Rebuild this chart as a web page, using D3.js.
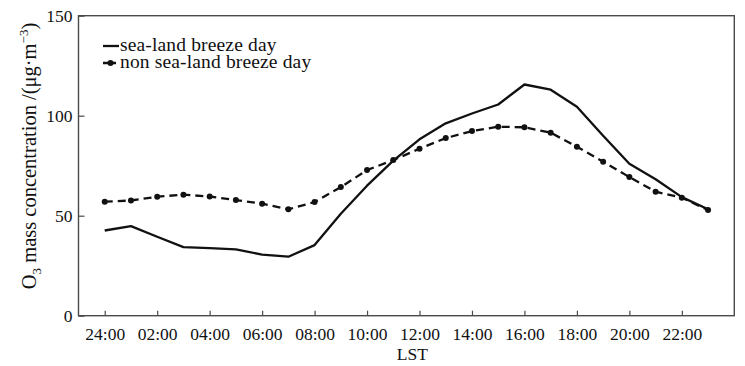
<!DOCTYPE html>
<html>
<head>
<meta charset="utf-8">
<script src="https://cdn.jsdelivr.net/npm/d3@7"></script>
<style>
  html, body { margin: 0; padding: 0; background: #fff; }
  svg text, svg tspan { font-family: "Liberation Serif", "Times New Roman", serif !important; fill: #111; }
</style>
</head>
<body>
<svg id="chart" width="745" height="366" font-family="Liberation Serif"></svg>
<script>
// ---- data ----
const hours = [0,1,2,3,4,5,6,7,8,9,10,11,12,13,14,15,16,17,18,19,20,21,22,23];
const seaLand = [42.6,44.8,39.5,34.3,33.8,33.2,30.5,29.5,35.3,51,65,77.5,88.2,96.2,101.1,105.6,115.6,113,104.5,90,76,68.2,59.3,53.2];
const nonSeaLand = [57,57.6,59.5,60.5,59.6,57.8,56,53.2,56.8,64.3,72.8,77.8,83.5,88.8,92.3,94.5,94.2,91.5,84.5,77,69.3,62,59,52.8];
const xTickHours = [0,2,4,6,8,10,12,14,16,18,20,22];
const xTickLabels = ["24:00","02:00","04:00","06:00","08:00","10:00","12:00","14:00","16:00","18:00","20:00","22:00"];
const yTicks = [0,50,100,150];
const seriesNames = ["sea-land breeze day","non sea-land breeze day"];

// ---- layout ----
const FONT = "Liberation Serif";
const svg = d3.select("#chart");
const L = 78.5, R = 734.3, T = 15.7, B = 315.7;
const x = d3.scaleLinear().domain([-1, 24]).range([L, R]);
const y = d3.scaleLinear().domain([0, 150]).range([B, T]);
const axisColor = "#4a4a4a";

// frame
svg.append("rect").attr("x", L).attr("y", T).attr("width", R - L).attr("height", B - T)
  .attr("fill", "none").attr("stroke", axisColor).attr("stroke-width", 1.4);

// x axis (ticks inward)
const xAxis = d3.axisBottom(x).tickValues(xTickHours).tickSize(-5).tickPadding(12)
  .tickFormat((d, i) => xTickLabels[i]);
const gx = svg.append("g").attr("transform", `translate(0,${B})`).call(xAxis)
  .attr("font-family", FONT);
gx.select(".domain").remove();
gx.selectAll(".tick line").attr("stroke", axisColor).attr("stroke-width", 1.2);
gx.selectAll(".tick text").attr("font-size", "17.5px").attr("fill", "#111")
  .attr("font-family", FONT).attr("dy", null).attr("y", 24.5);

// y axis (ticks inward)
const yAxis = d3.axisLeft(y).tickValues(yTicks).tickSize(-6).tickPadding(6);
const gy = svg.append("g").attr("transform", `translate(${L},0)`).call(yAxis)
  .attr("font-family", FONT);
gy.select(".domain").remove();
gy.selectAll(".tick line").attr("stroke", axisColor).attr("stroke-width", 1.2);
gy.selectAll(".tick text").attr("font-size", "17.5px").attr("fill", "#111")
  .attr("font-family", FONT).attr("x", -6).attr("dy", "0.34em");

// axis titles
svg.append("text").attr("x", (L + R) / 2 + 6).attr("y", 360).attr("text-anchor", "middle")
  .attr("font-family", FONT).attr("font-size", "17.5px").text("LST");

const yl = svg.append("text").attr("transform", "translate(36,156) rotate(-90)")
  .attr("text-anchor", "middle").attr("font-family", FONT).attr("font-size", "20.5px");
yl.append("tspan").text("O");
yl.append("tspan").attr("font-size", "13px").attr("dy", "5").text("3");
yl.append("tspan").attr("dy", "-5").text(" mass concentration /(μg·m");
yl.append("tspan").attr("font-size", "13px").attr("dy", "-8").text("−3");
yl.append("tspan").attr("dy", "8").text(")");

// lines
const line = d3.line().x((d, i) => x(hours[i])).y(d => y(d));
svg.append("path").datum(nonSeaLand).attr("d", line).attr("fill", "none")
  .attr("stroke", "#111").attr("stroke-width", 2.3).attr("stroke-dasharray", "8,5");
svg.selectAll("circle.pt").data(nonSeaLand).enter().append("circle").attr("class", "pt")
  .attr("cx", (d, i) => x(hours[i])).attr("cy", d => y(d)).attr("r", 3).attr("fill", "#111");
svg.append("path").datum(seaLand).attr("d", line).attr("fill", "none")
  .attr("stroke", "#111").attr("stroke-width", 2.3).attr("stroke-linejoin", "round");

// legend
const lg = svg.append("g").attr("font-family", FONT);
lg.append("line").attr("x1", 103).attr("x2", 119).attr("y1", 46).attr("y2", 46)
  .attr("stroke", "#111").attr("stroke-width", 2.3);
lg.append("text").attr("x", 120).attr("y", 51).attr("font-family", FONT)
  .attr("font-size", "19.5px").attr("letter-spacing", "0.15px").text(seriesNames[0]);
lg.append("line").attr("x1", 103).attr("x2", 119).attr("y1", 63).attr("y2", 63)
  .attr("stroke", "#111").attr("stroke-width", 2.3).attr("stroke-dasharray", "5,3");
lg.append("circle").attr("cx", 110.5).attr("cy", 63).attr("r", 3).attr("fill", "#111");
lg.append("text").attr("x", 120).attr("y", 68).attr("font-family", FONT)
  .attr("font-size", "19.5px").attr("letter-spacing", "0.15px").text(seriesNames[1]);
</script>
</body>
</html>
